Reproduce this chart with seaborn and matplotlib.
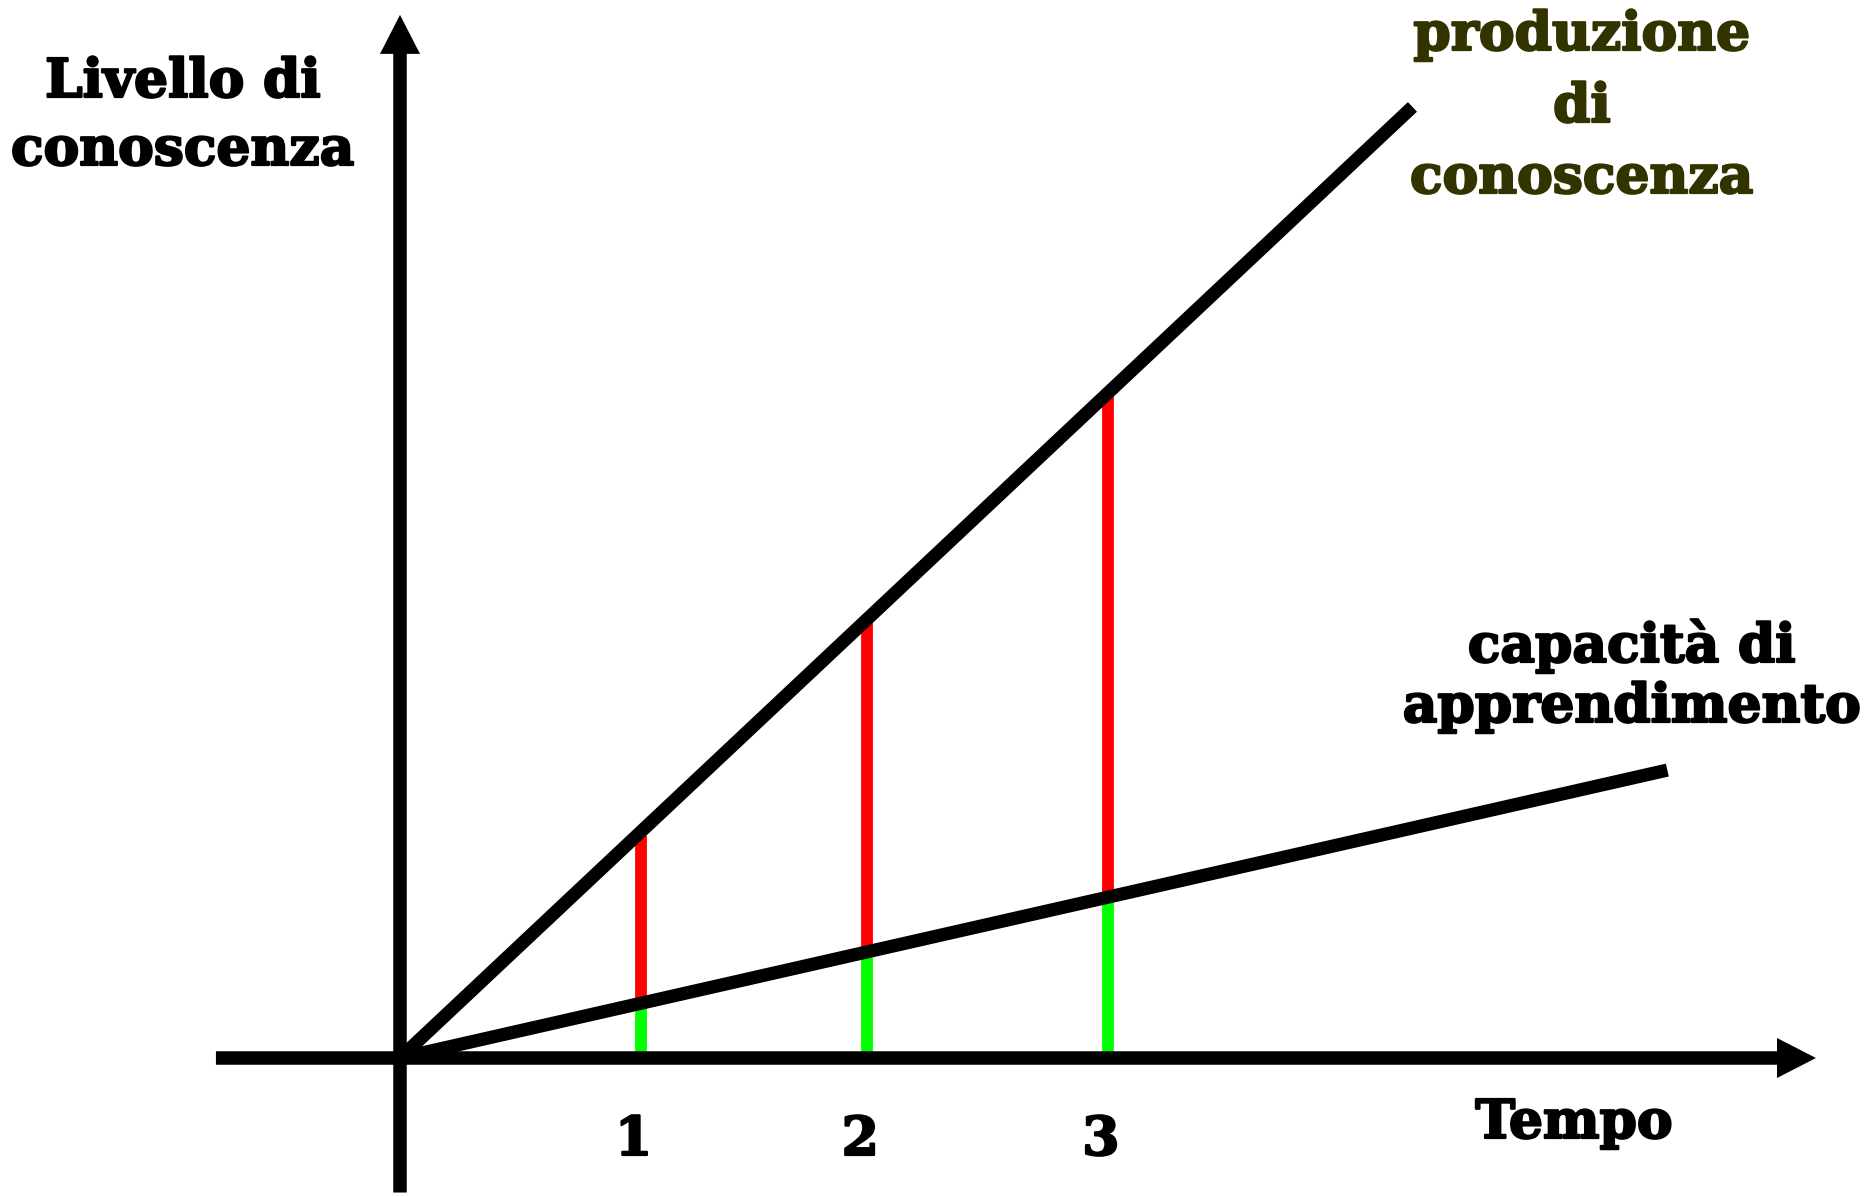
import numpy as np
import pandas as pd
import matplotlib
matplotlib.use('Agg')
import matplotlib.pyplot as plt
import matplotlib.patheffects as pe
import seaborn as sns

# values (1 unit of tempo / livello = 236 px)
tempi = [1.02, 1.98, 3.0]            # where the red/green bars stand
tick_labels = ['1', '2', '3']
produzione = [0.94, 1.86, 2.82]      # livello della retta alta ai tempi 1,2,3
capacita = [0.23, 0.45, 0.68]        # livello della retta bassa ai tempi 1,2,3

# end points of the two straight lines
prod_tempo = [0, 4.29]
prod_livello = [0, 4.03]
cap_tempo = [0, 5.37]
cap_livello = [0, 1.22]

sns.set_theme(style='white')
plt.rcParams['font.family'] = ['DejaVu Serif']

UNIT = 236  # px per data unit
fig = plt.figure(figsize=(18.74, 11.96), dpi=100)
ax = fig.add_axes([0, 0, 1, 1])
ax.set_xlim(-400 / UNIT, 1474 / UNIT)
ax.set_ylim(-138 / UNIT, 1058 / UNIT)

# axes with arrows
lw_ax = 13.5 / UNIT
ax.arrow(-0.78, 0, 6.0 + 0.78, 0, width=lw_ax, head_width=40 / UNIT, head_length=39 / UNIT,
         length_includes_head=True, color='black', lw=0, zorder=4)
ax.arrow(0, -0.57, 0, 4.42 + 0.57, width=lw_ax, head_width=40 / UNIT, head_length=39 / UNIT,
         length_includes_head=True, color='black', lw=0, zorder=4)

# red / green markers
ax.vlines(tempi, 0, capacita, colors='#00ff00', lw=8.5, zorder=2)
ax.vlines(tempi, capacita, produzione, colors='#ff0000', lw=8.5, zorder=2)

lines = pd.DataFrame({
    'tempo': prod_tempo + cap_tempo,
    'livello': prod_livello + cap_livello,
    'serie': ['produzione'] * 2 + ['capacita'] * 2,
})
sns.lineplot(data=lines, x='tempo', y='livello', hue='serie', palette=['black', 'black'],
             lw=9.5, legend=False, ax=ax, zorder=3, solid_capstyle='butt')
ax.set_axis_off()

fs = 38.5

def px(x, y):
    return (x - 400) / UNIT, (1058 - y) / UNIT

def label(x, y, txt, color='black'):
    ax.text(x, y, txt, fontsize=fs, fontweight='bold', ha='center', va='baseline', color=color,
            path_effects=[pe.withStroke(linewidth=1.6, foreground=color)])

label(*px(183, 97), 'Livello di')
label(*px(183, 165), 'conoscenza')

olive = '#333300'
for txt, yb in [('produzione', 50), ('di', 122), ('conoscenza', 193)]:
    label(*px(1582, yb), txt, olive)

label(*px(1632, 662), 'capacità di')
label(*px(1632, 722), 'apprendimento')

label(*px(1574, 1138), 'Tempo')

for t, lab in zip(tempi, tick_labels):
    label(t - 0.03, (1058 - 1155) / UNIT, lab)

fig.savefig('out.png', dpi=100, facecolor='white')
